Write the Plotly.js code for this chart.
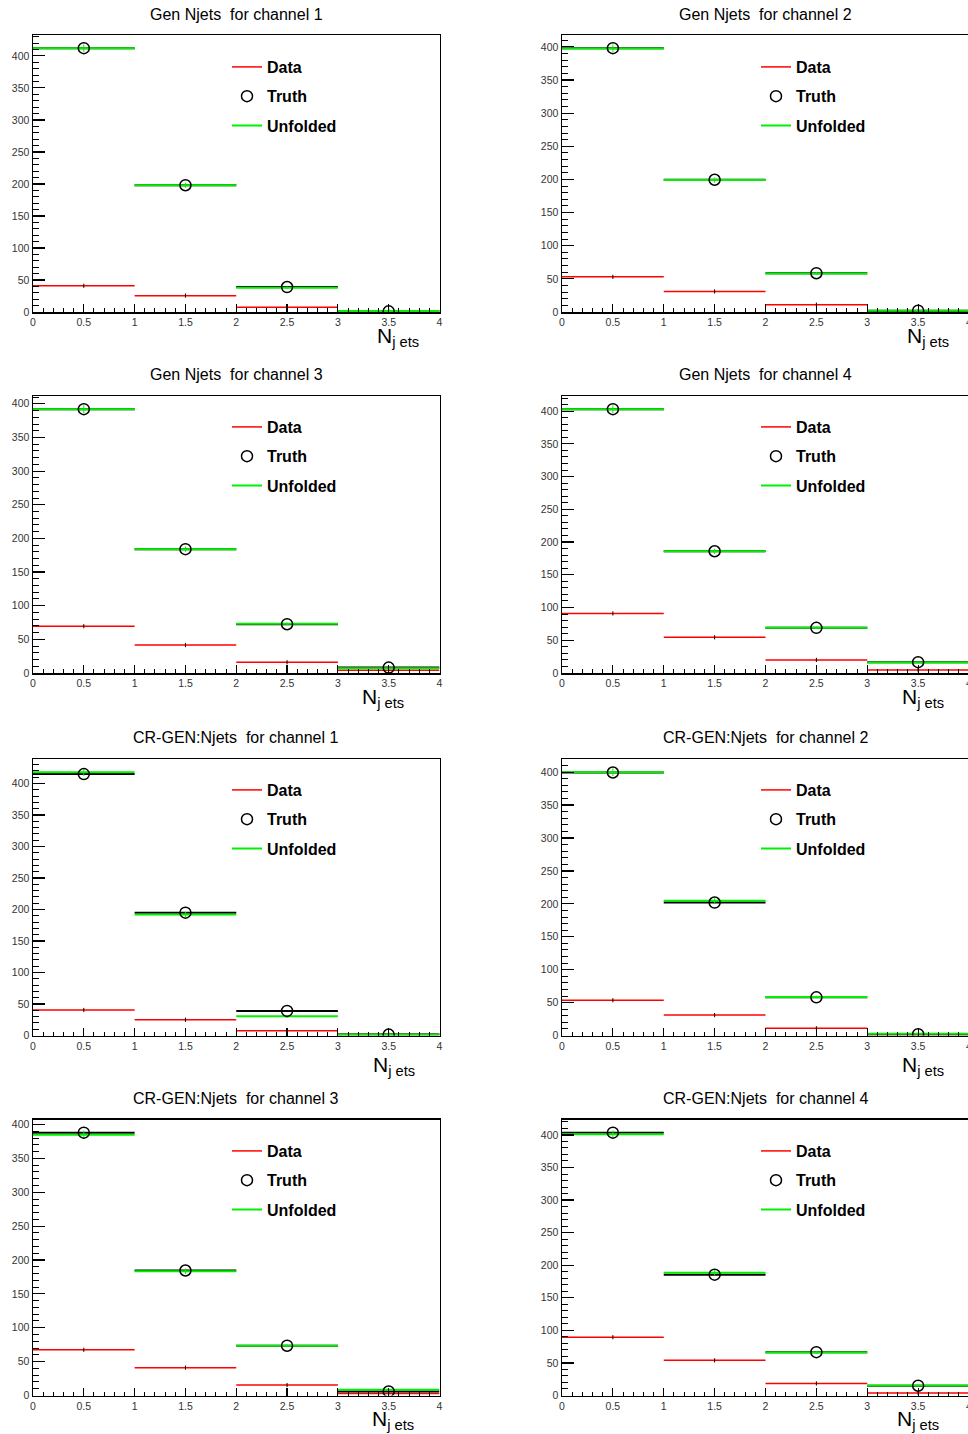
<!DOCTYPE html>
<html><head><meta charset="utf-8">
<script src="https://cdn.plot.ly/plotly-3.0.1.min.js"></script>
<style>
html,body{margin:0;padding:0;overflow:hidden;background:#fff;width:968px;height:1434px}
#chart{width:1058px;height:1434px}
</style>
</head><body><div id="chart"></div>
<script>
// bins of N_jets
const binLow = [0, 1, 2, 3];
const binHigh = [1, 2, 3, 4];
const binCenter = [0.5, 1.5, 2.5, 3.5];

const panelTitles = [
  "Gen Njets\u00a0 for channel 1", "Gen Njets\u00a0 for channel 2",
  "Gen Njets\u00a0 for channel 3", "Gen Njets\u00a0 for channel 4",
  "CR-GEN:Njets\u00a0 for channel 1", "CR-GEN:Njets\u00a0 for channel 2",
  "CR-GEN:Njets\u00a0 for channel 3", "CR-GEN:Njets\u00a0 for channel 4"
];
const seriesNames = ["Data", "Truth", "Unfolded"];
const xTitle = "N<sub>j ets</sub>";

// Gen Njets
const gen1Data = [41, 25.5, 7.5, 2];
const gen1Truth = [412, 198, 39, 1];
const gen1Unfolded = [412, 198, 38, 1.5];
const gen2Data = [53, 31, 11, 1];
const gen2Truth = [398, 199.5, 58.5, 2];
const gen2Unfolded = [397.5, 199, 58, 2];
const gen3Data = [69.5, 41.5, 16, 4];
const gen3Truth = [392, 184, 72.5, 8];
const gen3Unfolded = [392, 184, 73, 7];
const gen4Data = [91, 54.5, 20, 4.5];
const gen4Truth = [403, 186, 69, 16.5];
const gen4Unfolded = [403, 186, 69, 16];
// CR-GEN:Njets
const cr1Data = [40.5, 25, 7.5, 2];
const cr1Truth = [415, 195, 39, 1.5];
const cr1Unfolded = [418, 192, 30.5, 1.5];
const cr2Data = [53.5, 31, 11, 1];
const cr2Truth = [399.5, 202, 58, 2];
const cr2Unfolded = [400, 204.5, 58.5, 2.5];
const cr3Data = [67.5, 41, 15.5, 3];
const cr3Truth = [388, 184.5, 73.5, 6];
const cr3Unfolded = [385, 183.5, 73.5, 8.5];
const cr4Data = [89.5, 54, 18.5, 4];
const cr4Truth = [403.5, 185.5, 66.5, 15];
const cr4Unfolded = [401, 188.5, 66, 15.5];
// small vertical error marks on unfolded points
const unfoldedErr = [6, 4, 2, 1];

const panels = [
  [gen1Data, gen1Truth, gen1Unfolded], [gen2Data, gen2Truth, gen2Unfolded],
  [gen3Data, gen3Truth, gen3Unfolded], [gen4Data, gen4Truth, gen4Unfolded],
  [cr1Data, cr1Truth, cr1Unfolded], [cr2Data, cr2Truth, cr2Unfolded],
  [cr3Data, cr3Truth, cr3Unfolded], [cr4Data, cr4Truth, cr4Unfolded]
];

const W = 1058, H = 1434;
const colX = [[33, 439.5], [562, 969]];
const rowY = [[35, 312], [396, 673], [759, 1035.5], [1119.5, 1395.5]];
const titleY = [14.5, 374.5, 737, 1098];
const legendTop = [67, 427, 790, 1151];
const legendTextX = [267, 796];
const xTitleRight = [[421, 951], [406, 946], [417, 946], [416, 941]];
const xTitleY = [336.5, 698, 1066, 1420];

const FONT = "Liberation Sans, Arial, Helvetica, sans-serif";
const RED = "#ff0000", GREEN = "#00f000", BLACK = "#000000";

function seg(vals) {
  const x = [], y = [];
  vals.forEach((v, k) => { x.push(binLow[k], binHigh[k], null); y.push(v, v, null); });
  return {x, y};
}

const traces = [];
const layout = {
  width: W, height: H, margin: {l: 0, r: 0, t: 0, b: 0},
  paper_bgcolor: "#fff", plot_bgcolor: "#fff",
  font: {family: FONT, color: "#000"},
  showlegend: true, annotations: []
};

panels.forEach((p, i) => {
  const col = i % 2, row = Math.floor(i / 2);
  const sfx = i === 0 ? "" : String(i + 1);
  const xa = "x" + sfx, ya = "y" + sfx;
  const lg = "legend" + sfx;
  const [d, t, u] = p;
  const ymax = 1.05 * Math.max(...d, ...t, ...u);

  const sd = seg(d), st = seg(t), su = seg(u);
  traces.push({type: "scatter", mode: "lines", x: sd.x, y: sd.y, xaxis: xa, yaxis: ya,
    line: {color: RED, width: 1.5}, name: seriesNames[0], legend: lg, legendrank: 1,
    legendgroup: "d" + i, connectgaps: false, hoverinfo: "skip"});
  traces.push({type: "scatter", mode: "markers", x: binCenter, y: d, xaxis: xa, yaxis: ya,
    marker: {symbol: "line-ns", size: 3, color: BLACK, line: {color: BLACK, width: 1}}, showlegend: false, hoverinfo: "skip"});
  traces.push({type: "scatter", mode: "lines", x: st.x, y: st.y, xaxis: xa, yaxis: ya,
    line: {color: BLACK, width: 2}, showlegend: false, connectgaps: false, hoverinfo: "skip"});
  traces.push({type: "scatter", mode: "lines", x: su.x, y: su.y, xaxis: xa, yaxis: ya,
    line: {color: GREEN, width: 2}, name: seriesNames[2], legend: lg, legendrank: 3,
    legendgroup: "u" + i, connectgaps: false, hoverinfo: "skip"});
  traces.push({type: "scatter", mode: "markers", x: binCenter, y: u, xaxis: xa, yaxis: ya,
    marker: {size: 1, color: GREEN}, error_y: {type: "data", array: unfoldedErr, color: GREEN, thickness: 1, width: 0},
    showlegend: false, hoverinfo: "skip"});
  traces.push({type: "scatter", mode: "markers", x: binCenter, y: t, xaxis: xa, yaxis: ya,
    marker: {symbol: "circle-open", size: 11, color: BLACK, line: {width: 1.5, color: BLACK}},
    name: seriesNames[1], legend: lg, legendrank: 2, legendgroup: "t" + i, hoverinfo: "skip"});

  const xd = [colX[col][0] / W, colX[col][1] / W];
  const yd = [1 - rowY[row][1] / H, 1 - rowY[row][0] / H];
  layout["xaxis" + sfx] = {
    domain: xd, anchor: ya, range: [0, 4], dtick: 0.5, tick0: 0,
    ticks: "inside", ticklen: 8, tickwidth: 1.2, tickcolor: BLACK,
    minor: {dtick: 0.1, ticks: "inside", ticklen: 4, tickwidth: 1, tickcolor: BLACK},
    showline: true, mirror: true, linecolor: BLACK, linewidth: 1.5,
    showgrid: false, zeroline: false, fixedrange: true,
    tickfont: {family: FONT, size: 10.5, color: "#333"}
  };
  layout["yaxis" + sfx] = {
    domain: yd, anchor: xa, range: [0, ymax], dtick: 50, tick0: 0,
    ticks: "inside", ticklen: 12, tickwidth: 1.2, tickcolor: BLACK,
    minor: {dtick: 10, ticks: "inside", ticklen: 6, tickwidth: 1, tickcolor: BLACK},
    showline: true, mirror: true, linecolor: BLACK, linewidth: 1.5,
    showgrid: false, zeroline: false, fixedrange: true,
    tickfont: {family: FONT, size: 10.5, color: "#333"}
  };
  layout[lg] = {
    x: (legendTextX[col] - 40) / W, y: 1 - (legendTop[row] - 17) / H,
    xanchor: "left", yanchor: "top", xref: "paper", yref: "paper",
    bgcolor: "rgba(0,0,0,0)", borderwidth: 0,
    font: {family: FONT, size: 16, color: "#000", weight: "bold"},
    traceorder: "grouped", tracegroupgap: 5.5
  };
  layout.annotations.push({
    text: panelTitles[i], xref: "paper", yref: "paper",
    x: (colX[col][0] + colX[col][1]) / 2 / W, y: 1 - titleY[row] / H,
    xanchor: "center", yanchor: "middle", showarrow: false,
    font: {family: FONT, size: 16, color: "#000"}
  });
  layout.annotations.push({
    text: xTitle, xref: "paper", yref: "paper",
    x: xTitleRight[row][col] / W, y: 1 - xTitleY[row] / H,
    xanchor: "right", yanchor: "middle", showarrow: false,
    font: {family: FONT, size: 21, color: "#000"}
  });
});

Plotly.newPlot("chart", traces, layout, {staticPlot: true, displayModeBar: false});
</script>
</body></html>
